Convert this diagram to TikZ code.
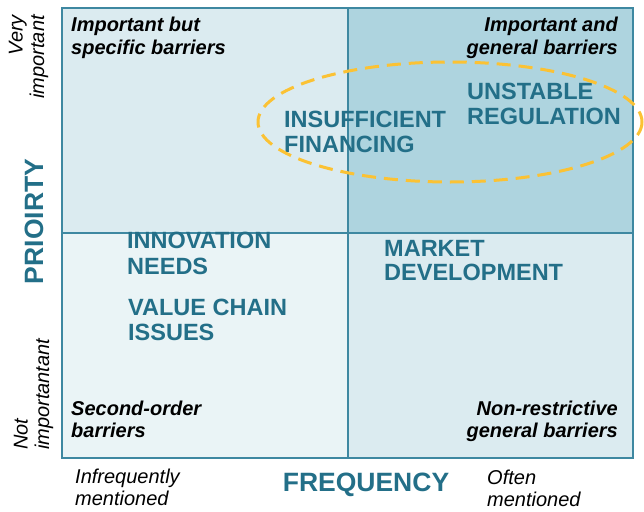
\documentclass[tikz,border=0pt]{standalone}
\usepackage{fontspec}
\setmainfont{Liberation Sans}
\definecolor{frameC}{HTML}{3E88A1}
\definecolor{tealT}{HTML}{236F88}
\definecolor{qTL}{HTML}{DBEBF0}
\definecolor{qTR}{HTML}{AED4DF}
\definecolor{qBL}{HTML}{EAF4F6}
\definecolor{qBR}{HTML}{DBEBF0}
\definecolor{goldC}{HTML}{FBC234}
\tikzset{
  qlabel/.style={inner sep=0pt, font=\fontsize{20}{22}\selectfont\bfseries\itshape, text=black},
  axend/.style={inner sep=0pt, font=\fontsize{20}{21.5}\selectfont\itshape, text=black},
  axtitle/.style={inner sep=0pt, font=\fontsize{26.5}{28}\selectfont\bfseries, text=tealT},
  item/.style={inner sep=0pt, font=\fontsize{23.5}{25}\selectfont\bfseries, text=tealT, align=left, anchor=base west},
  frameline/.style={draw=frameC, line width=2pt},
}
\begin{document}
\begin{tikzpicture}[x=1pt,y=-1pt]
\useasboundingbox (0,0) rectangle (644,511);
% quadrants
\fill[qTL] (62,8) rectangle (347.5,233);
\fill[qTR] (347.5,8) rectangle (633,233);
\fill[qBL] (62,233) rectangle (347.5,458);
\fill[qBR] (347.5,233) rectangle (633,458);
\draw[frameline] (62,8) rectangle (633,458);
\draw[frameline] (347.5,8) -- (347.5,458);
\draw[frameline] (62,233) -- (633,233);
% quadrant labels (anchor = baseline of last line)
\node[qlabel, align=left, anchor=base west] (tl) at (71,54) {Important but\\specific barriers};
\node[qlabel, align=right, anchor=base east] (tr) at (618,54) {Important and\\general barriers};
\node[qlabel, align=left, anchor=base west] (bl) at (71,437) {Second-order\\barriers};
\node[qlabel, align=right, anchor=base east] (br) at (618,437) {Non-restrictive\\general barriers};
% items
\node[item] (fin) at (284,152) {INSUFFICIENT\\FINANCING};
\node[item] (reg) at (467,124) {UNSTABLE\\REGULATION};
\node[item, font=\fontsize{23.5}{26}\selectfont\bfseries] (inn) at (127,274) {INNOVATION\\NEEDS};
\node[item] (val) at (128,340) {VALUE CHAIN\\ISSUES};
\node[item, font=\fontsize{23.5}{24}\selectfont\bfseries] (mkt) at (384,280) {MARKET\\DEVELOPMENT};
% highlight ellipse
\draw[goldC, line width=3pt, dash pattern=on 14pt off 8pt] (450,122) ellipse [x radius=192, y radius=60];
% axis titles
\node[axtitle, rotate=90, anchor=base] (prio) at (43,221.5) {PRIOIRTY};
\node[axtitle, anchor=base] (freq) at (366,491) {FREQUENCY};
% axis ends
\node[axend, rotate=90, align=right, anchor=base east] (vimp) at (44,15) {Very\\important};
\node[axend, rotate=90, align=left, anchor=base west] (nimp) at (49,450) {Not\\importantant};
\node[axend, align=left, anchor=base west] (infr) at (75,505) {Infrequently\\mentioned};
\node[axend, align=left, anchor=base west] (often) at (487,506) {Often\\mentioned};
\end{tikzpicture}
\end{document}
